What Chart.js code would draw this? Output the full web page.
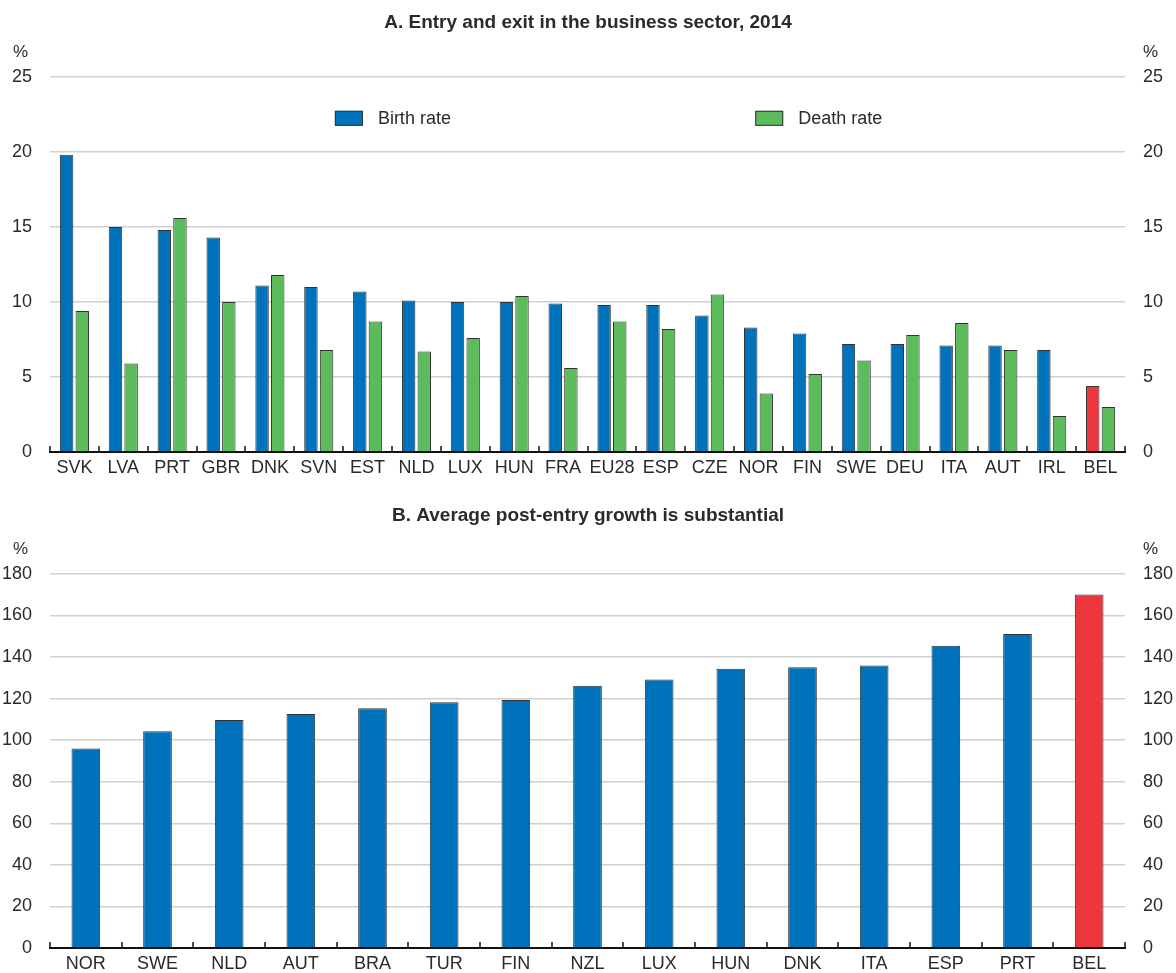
<!DOCTYPE html>
<html>
<head>
<meta charset="utf-8">
<script src="https://cdn.jsdelivr.net/npm/chart.js@4.4.1/dist/chart.umd.min.js"></script>
<style>
  html, body { margin: 0; padding: 0; background: #fff; overflow: hidden; }
  #wrapA { position: absolute; left: 0; top: 0; width: 1176px; height: 490px; }
  #wrapB { position: absolute; left: 0; top: 490px; width: 1176px; height: 488px; }
</style>
</head>
<body>
<div id="wrapA"><canvas id="chartA"></canvas></div>
<div id="wrapB"><canvas id="chartB"></canvas></div>
<script>
// =============================
// DATA
// =============================
const countriesA = ["SVK","LVA","PRT","GBR","DNK","SVN","EST","NLD","LUX","HUN","FRA","EU28","ESP","CZE","NOR","FIN","SWE","DEU","ITA","AUT","IRL","BEL"];
const birthRate = [19.8,15.0,14.8,14.3,11.1,11.0,10.7,10.1,10.0,10.0,9.9,9.8,9.8,9.1,8.3,7.9,7.2,7.2,7.1,7.1,6.8,4.4];
const deathRate = [9.4,5.9,15.6,10.0,11.8,6.8,8.7,6.7,7.6,10.4,5.6,8.7,8.2,10.5,3.9,5.2,6.1,7.8,8.6,6.8,2.4,3.0];

const countriesB = ["NOR","SWE","NLD","AUT","BRA","TUR","FIN","NZL","LUX","HUN","DNK","ITA","ESP","PRT","BEL"];
const postEntryGrowth = [96,104.3,109.7,112.6,115.3,118.2,119.3,126.2,129.1,134.3,135.1,135.9,145.4,151,170.1];

const ticksA = { min: 0, max: 25, step: 5 };
const ticksB = { min: 0, max: 180, step: 20 };

const titleA = "A. Entry and exit in the business sector, 2014";
const titleB = "B. Average post-entry growth is substantial";

const BLUE = "#0072BB";
const GREEN = "#5CBB5A";
const RED = "#EC363E";
const FONT = "'Liberation Sans Narrow', 'Liberation Sans', Arial, sans-serif";
const TEXT = "#2a2a2a";

function colorsFor(list, base){
  return list.map(c => c === "BEL" ? RED : base);
}

// =============================
// PLUGINS
// =============================
// little upward ticks on the x axis at the category boundaries
const axisTicks = {
  id: "axisTicks",
  afterDatasetsDraw(chart){
    let x = chart.scales.x;
    let ctx = chart.ctx;
    let bottom = chart.chartArea.bottom;
    ctx.save();
    ctx.strokeStyle = "#111";
    ctx.lineWidth = 1.5;
    for (let i = 0; i <= chart.data.labels.length; i++){
      let px = Math.round(x.getPixelForValue(i - 0.5));
      ctx.beginPath();
      ctx.moveTo(px, bottom);
      ctx.lineTo(px, bottom - 6);
      ctx.stroke();
    }
    ctx.restore();
  }
};

// "%" unit above both y axes
const percentLabels = {
  id: "percentLabels",
  afterDraw(chart){
    let ctx = chart.ctx;
    let top = chart.chartArea.top;
    ctx.save();
    ctx.font = "17px " + FONT;
    ctx.fillStyle = TEXT;
    ctx.textBaseline = "middle";
    ctx.textAlign = "right";
    ctx.fillText("%", chart.scales.y.right - 22, top - 24);
    ctx.textAlign = "left";
    ctx.fillText("%", chart.scales.y2.left + 18, top - 24);
    ctx.restore();
  }
};

// legend drawn inside the plot area
const innerLegend = {
  id: "innerLegend",
  afterDraw(chart, args, opts){
    if (!opts.items) return;
    let area = chart.chartArea;
    let ctx = chart.ctx;
    ctx.save();
    ctx.font = "18px " + FONT;
    ctx.textBaseline = "middle";
    ctx.textAlign = "left";
    opts.items.forEach(function(item){
      let x = area.left + item.at * (area.right - area.left);
      let y = area.top + opts.offset;
      ctx.fillStyle = item.color;
      ctx.fillRect(x, y - 7, 28, 15);
      ctx.strokeStyle = "#333";
      ctx.lineWidth = 1;
      ctx.strokeRect(x + 0.5, y - 6.5, 27, 14);
      ctx.fillStyle = TEXT;
      ctx.fillText(item.text, x + 43, y + 1);
    });
    ctx.restore();
  }
};

// =============================
// SHARED OPTIONS
// =============================
function buildOptions(title, tk, titlePad, xHeight, legendItems){
  return {
    responsive: true,
    maintainAspectRatio: false,
    animation: false,
    layout: { padding: 0 },
    plugins: {
      legend: { display: false },
      tooltip: { enabled: false },
      title: {
        display: true,
        text: title,
        color: TEXT,
        font: { family: FONT, size: 19, weight: "bold" },
        padding: titlePad
      },
      innerLegend: legendItems
    },
    scales: {
      x: {
        offset: true,
        grid: { display: false, drawTicks: false },
        border: { display: true, color: "#111", width: 2 },
        ticks: { color: TEXT, font: { family: FONT, size: 18 }, padding: 5, maxRotation: 0, autoSkip: false },
        afterFit: function(scale){ scale.height = xHeight; }
      },
      y: {
        position: "left",
        min: tk.min, max: tk.max,
        ticks: { stepSize: tk.step, color: TEXT, font: { family: FONT, size: 18 }, padding: 18 },
        grid: { color: "#d0d0d0", lineWidth: 1.5, drawTicks: false },
        border: { display: false },
        afterFit: function(scale){ scale.width = 50; }
      },
      y2: {
        position: "right",
        min: tk.min, max: tk.max,
        ticks: { stepSize: tk.step, color: TEXT, font: { family: FONT, size: 18 }, padding: 18 },
        grid: { display: false, drawTicks: false },
        border: { display: false },
        afterFit: function(scale){ scale.width = 51; }
      }
    }
  };
}

// =============================
// CHART A
// =============================
new Chart(document.getElementById("chartA"), {
  type: "bar",
  data: {
    labels: countriesA,
    datasets: [
      {
        label: "Birth rate",
        data: birthRate,
        backgroundColor: colorsFor(countriesA, BLUE),
        borderColor: "#333",
        borderWidth: 1,
        categoryPercentage: 0.64,
        barPercentage: 0.86
      },
      {
        label: "Death rate",
        data: deathRate,
        backgroundColor: GREEN,
        borderColor: "#333",
        borderWidth: 1,
        categoryPercentage: 0.64,
        barPercentage: 0.86
      }
    ]
  },
  options: buildOptions(titleA, ticksA, { top: 11, bottom: 43 }, 38, {
    offset: 41,
    items: [
      { text: "Birth rate", color: BLUE, at: 0.265 },
      { text: "Death rate", color: GREEN, at: 0.656 }
    ]
  }),
  plugins: [axisTicks, percentLabels, innerLegend]
});

// =============================
// CHART B
// =============================
new Chart(document.getElementById("chartB"), {
  type: "bar",
  data: {
    labels: countriesB,
    datasets: [{
      label: "Average post-entry growth",
      data: postEntryGrowth,
      backgroundColor: colorsFor(countriesB, BLUE),
      borderColor: "#333",
      borderWidth: 1,
      categoryPercentage: 0.8,
      barPercentage: 0.5
    }]
  },
  options: buildOptions(titleB, ticksB, { top: 14, bottom: 47 }, 30, {}),
  plugins: [axisTicks, percentLabels, innerLegend]
});
</script>
</body>
</html>
